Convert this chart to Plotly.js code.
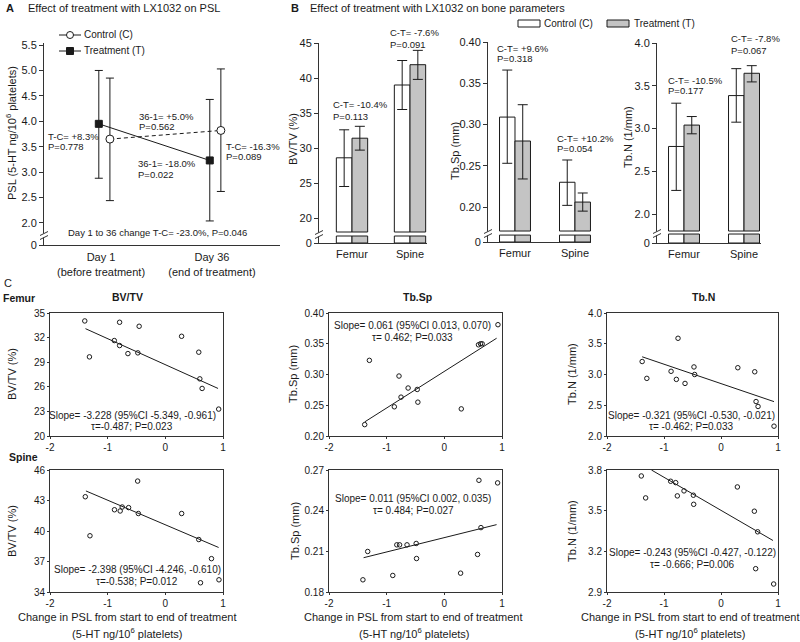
<!DOCTYPE html>
<html><head><meta charset="utf-8">
<script src="https://cdn.plot.ly/plotly-3.0.1.min.js"></script>
<style>html,body{margin:0;padding:0;background:#fff}#chart{width:800px;height:642px}</style>
</head><body><div id="chart"></div>
<script>
// ===== Panel A data: PSL =====
const pslDays = ["Day 1<br>(before treatment)", "Day 36<br>(end of treatment)"];
const pslControl = [3.65, 3.82];
const pslControlLow = [2.44, 2.62];
const pslControlHigh = [4.85, 5.03];
const pslTreat = [3.95, 3.23];
const pslTreatLow = [2.88, 2.04];
const pslTreatHigh = [5.00, 4.43];
const pslTickVals = [2.0, 2.5, 3.0, 3.5, 4.0, 4.5, 5.0, 5.5];
const pslTickText = ["2.0", "2.5", "3.0", "3.5", "4.0", "4.5", "5.0", "5.5"];

// ===== Panel B data: bone parameters =====
const boneSites = ["Femur", "Spine"];
const bvtvControl = [28.6, 39.0];
const bvtvControlLow = [24.5, 35.5];
const bvtvControlHigh = [32.6, 42.5];
const bvtvTreat = [31.4, 41.9];
const bvtvTreatLow = [29.7, 39.8];
const bvtvTreatHigh = [33.1, 43.95];
const bvtvTicks = [20, 25, 30, 35, 40, 45];

const tbspControl = [0.309, 0.230];
const tbspControlLow = [0.253, 0.202];
const tbspControlHigh = [0.366, 0.257];
const tbspTreat = [0.280, 0.206];
const tbspTreatLow = [0.234, 0.195];
const tbspTreatHigh = [0.324, 0.217];
const tbspTicks = [0.20, 0.25, 0.30, 0.35, 0.40];

const tbnControl = [2.79, 3.385];
const tbnControlLow = [2.276, 3.074];
const tbnControlHigh = [3.296, 3.70];
const tbnTreat = [3.04, 3.646];
const tbnTreatLow = [2.938, 3.545];
const tbnTreatHigh = [3.14, 3.735];
const tbnTicks = [2.0, 2.5, 3.0, 3.5, 4.0];

// ===== Panel C data: change in PSL vs bone parameters =====
const femurBvX = [-1.397, -1.316, -0.793, -0.885, -0.793, -0.649, -0.477, -0.454, 0.282, 0.580, 0.598, 0.638, 0.925];
const femurBvY = [34.03, 29.65, 33.87, 31.64, 31.03, 30.05, 30.14, 33.38, 32.16, 30.22, 26.97, 25.80, 23.28];
const femurBvFitX = [-1.385, 0.914];
const femurBvFitY = [33.09, 25.80];

const femurSpX = [-1.381, -1.300, -0.786, -0.867, -0.751, -0.628, -0.470, -0.459, 0.294, 0.592, 0.627, 0.656, 0.930];
const femurSpY = [0.2185, 0.323, 0.2975, 0.2475, 0.2632, 0.278, 0.2757, 0.2550, 0.2441, 0.3483, 0.350, 0.350, 0.381];
const femurSpFitX = [-1.381, 0.907];
const femurSpFitY = [0.2229, 0.359];

const femurNX = [-1.383, -1.301, -0.754, -0.876, -0.783, -0.631, -0.474, -0.462, 0.295, 0.592, 0.615, 0.650, 0.930];
const femurNY = [3.211, 2.937, 3.589, 3.052, 2.921, 2.855, 3.123, 3.00, 3.11, 3.044, 2.56, 2.48, 2.16];
const femurNFitX = [-1.383, 0.930];
const femurNFitY = [3.288, 2.559];

const spineBvX = [-1.388, -1.307, -0.480, -0.882, -0.783, -0.748, -0.637, -0.468, 0.283, 0.580, 0.80, 0.61, 0.93];
const spineBvY = [43.37, 39.53, 44.91, 42.09, 41.97, 42.36, 42.30, 41.72, 41.72, 39.16, 37.28, 34.91, 35.2];
const spineBvFitX = [-1.377, 0.924];
const spineBvFitY = [43.94, 38.38];

const spineSpX = [-1.412, -1.329, -0.824, -0.776, -0.894, -0.647, -0.488, -0.482, 0.282, 0.576, 0.600, 0.635, 0.924];
const spineSpY = [0.189, 0.2099, 0.2148, 0.2148, 0.1922, 0.2148, 0.2158, 0.2047, 0.1939, 0.2077, 0.2624, 0.2275, 0.2605];
const spineSpFitX = [-1.40, 0.906];
const spineSpFitY = [0.2053, 0.2297];

const spineNX = [-1.398, -1.322, -0.883, -0.795, -0.766, -0.649, -0.485, -0.479, 0.287, 0.585, 0.608, 0.643, 0.924];
const spineNY = [3.756, 3.594, 3.717, 3.707, 3.609, 3.646, 3.614, 3.547, 3.675, 3.496, 3.072, 3.344, 2.959];
const spineNFitX = [-1.22, 0.912];
const spineNFitY = [3.80, 3.28];

const changeTicks = [-2, -1, 0, 1];
const changeTickText = ["-2", "-1", "0", "1"];

// ===== styling helpers =====
const FONT = "Liberation Sans, Arial, Helvetica, sans-serif";
const INK = "#1a1a1a";
const AX = "#333";
const GRAY = "#c4c4c4";
const W = 800, H = 642;
const px = x => x / W;
const py = y => 1 - y / H;

const traces = [];
const layout = {
  width: W, height: H,
  margin: {l: 0, r: 0, t: 0, b: 0},
  paper_bgcolor: "#fff", plot_bgcolor: "rgba(0,0,0,0)",
  font: {family: FONT, color: INK, size: 10},
  showlegend: false,
  barmode: "overlay",
  annotations: [], shapes: []
};

function ann(text, x, y, o) {
  o = o || {};
  layout.annotations.push(Object.assign({
    text: text, x: px(x), y: py(y), xref: "paper", yref: "paper",
    xanchor: "left", yanchor: "middle", showarrow: false, borderpad: 0,
    font: {family: FONT, size: 9.5, color: INK}
  }, o));
}
function seg(x0, y0, x1, y1, col, w) {
  layout.shapes.push({type: "line", xref: "paper", yref: "paper",
    x0: px(x0), y0: py(y0), x1: px(x1), y1: py(y1),
    line: {color: col || AX, width: w || 1}, layer: "above"});
}
function box(x0, y0, x1, y1, fill, lineCol) {
  layout.shapes.push({type: "rect", xref: "paper", yref: "paper",
    x0: px(x0), y0: py(y0), x1: px(x1), y1: py(y1),
    fillcolor: fill, line: {color: lineCol || "rgba(0,0,0,0)", width: lineCol ? 1 : 0}, layer: "above"});
}
function brk(x, y) {
  box(x - 1.5, y - 2.5, x + 1.5, y + 1.5, "#fff");
  seg(x - 4, y - 0.5, x + 4, y - 4.5, AX, 1);
  seg(x - 4, y + 3.5, x + 4, y - 0.5, AX, 1);
}
function errY(vals, lo, hi, w) {
  return {type: "data", symmetric: false,
    array: hi.map((h, i) => h - vals[i]),
    arrayminus: vals.map((v, i) => v - lo[i]),
    color: INK, thickness: 1, width: w};
}

// ===== Panel A =====
const aMin = 1.567, aMax = 5.54;
layout.xaxis = {domain: [px(44), px(280)], range: [-0.514, 1.613], anchor: "y",
  tickvals: [0, 1], ticktext: pslDays, ticks: "outside", ticklen: 2, tickcolor: "rgba(0,0,0,0)",
  showline: true, linecolor: AX, linewidth: 1, showgrid: false, zeroline: false,
  tickfont: {size: 11, family: FONT, color: INK}, fixedrange: true};
layout.yaxis = {domain: [py(245), py(43)], range: [aMin, aMax], anchor: "x",
  tickvals: [aMin].concat(pslTickVals), ticktext: ["0"].concat(pslTickText),
  ticks: "outside", ticklen: 4, tickcolor: AX, showline: true, linecolor: AX, linewidth: 1,
  showgrid: false, zeroline: false, tickfont: {size: 11, family: FONT, color: INK}, fixedrange: true};
const dayIdx = pslDays.map((_, i) => i);
const offT = -0.02, offC = 0.08;
traces.push({type: "scatter", mode: "lines+markers", xaxis: "x", yaxis: "y",
  x: dayIdx.map(i => i + offC), y: pslControl,
  line: {color: INK, width: 1, dash: "4px,3px"},
  marker: {symbol: "circle", size: 8, color: "#fff", line: {color: INK, width: 1}},
  error_y: errY(pslControl, pslControlLow, pslControlHigh, 4), hoverinfo: "skip"});
traces.push({type: "scatter", mode: "lines+markers", xaxis: "x", yaxis: "y",
  x: dayIdx.map(i => i + offT), y: pslTreat,
  line: {color: INK, width: 1},
  marker: {symbol: "square", size: 7, color: INK, line: {color: INK, width: 1}},
  error_y: errY(pslTreat, pslTreatLow, pslTreatHigh, 4), hoverinfo: "skip"});
brk(44, 236);

// Panel A legend
seg(59, 35, 81, 35, INK, 1);
layout.shapes.push({type: "circle", xref: "paper", yref: "paper",
  x0: px(66.5), x1: px(73.5), y0: py(38.5), y1: py(31.5), fillcolor: "#fff", line: {color: INK, width: 1}, layer: "above"});
ann("Control (C)", 83, 35, {font: {family: FONT, size: 10, color: INK}});
seg(59, 51, 81, 51, INK, 1);
box(66.5, 47.5, 73.5, 54.5, INK, INK);
ann("Treatment (T)", 83, 51, {font: {family: FONT, size: 10, color: INK}});

// Panel A texts
ann("<b>A</b>", 5, 8, {font: {family: FONT, size: 11, color: INK}});
ann("Effect of treatment with LX1032 on PSL", 27, 8, {font: {family: FONT, size: 11, color: INK}});
ann("PSL (5-HT ng/10<sup>6</sup> platelets)", 11, 133, {xanchor: "center", textangle: -90, font: {family: FONT, size: 11, color: INK}});
ann("T-C= +8.3%", 47, 137); ann("P=0.778", 47, 147);
ann("36-1= +5.0%", 138, 117); ann("P=0.562", 138, 127);
ann("36-1= -18.0%", 137, 163.5); ann("P=0.022", 137, 175);
ann("T-C= -16.3%", 225, 146); ann("P=0.089", 225, 156);
ann("Day 1 to 36 change T-C= -23.0%, P=0.046", 157, 232, {xanchor: "center"});

// ===== Panel B =====
function barPanel(n, dom, xr, bw, cfg, ctrl, cLo, cHi, trt, tLo, tHi, ticks, fmt) {
  const xa = "x" + n, ya = "y" + n;
  layout["xaxis" + n] = {domain: [px(dom[0]), px(dom[1])], range: xr, anchor: ya,
    tickvals: [0, 1], ticktext: boneSites, ticks: "outside", ticklen: 1, tickcolor: "rgba(0,0,0,0)",
    showline: true, linecolor: AX, linewidth: 1, showgrid: false, zeroline: false,
    tickfont: {size: 11, family: FONT, color: INK}, fixedrange: true};
  layout["yaxis" + n] = {domain: [py(cfg.bottom), py(cfg.top)], range: [cfg.min, cfg.max], anchor: xa,
    tickvals: [cfg.min].concat(ticks), ticktext: ["0"].concat(ticks.map(fmt)),
    ticks: "outside", ticklen: 4, tickcolor: AX, showline: true, linecolor: AX, linewidth: 1,
    showgrid: false, zeroline: false, tickfont: {size: 11, family: FONT, color: INK}, fixedrange: true};
  const xi = boneSites.map((_, i) => i);
  const common = {type: "bar", xaxis: xa, yaxis: ya, width: bw, hoverinfo: "skip"};
  traces.push(Object.assign({}, common, {x: xi, y: ctrl.map(v => v - cfg.base), base: cfg.base, offset: -bw,
    marker: {color: "#fff", line: {color: INK, width: 1}}}));
  traces.push(Object.assign({}, common, {x: xi, y: trt.map(v => v - cfg.base), base: cfg.base, offset: 0,
    marker: {color: GRAY, line: {color: INK, width: 1}}}));
  traces.push(Object.assign({}, common, {x: xi, y: xi.map(() => cfg.stub - cfg.min), base: cfg.min, offset: -bw,
    marker: {color: "#fff", line: {color: INK, width: 1}}}));
  traces.push(Object.assign({}, common, {x: xi, y: xi.map(() => cfg.stub - cfg.min), base: cfg.min, offset: 0,
    marker: {color: GRAY, line: {color: INK, width: 1}}}));
  traces.push({type: "scatter", mode: "markers", xaxis: xa, yaxis: ya, x: xi.map(i => i - bw / 2), y: ctrl,
    marker: {size: 1, color: "rgba(0,0,0,0)"}, error_y: errY(ctrl, cLo, cHi, 5), hoverinfo: "skip"});
  traces.push({type: "scatter", mode: "markers", xaxis: xa, yaxis: ya, x: xi.map(i => i + bw / 2), y: trt,
    marker: {size: 1, color: "rgba(0,0,0,0)"}, error_y: errY(trt, tLo, tHi, 5), hoverinfo: "skip"});
}
barPanel(2, [319, 427], [-0.569, 1.293], 0.27,
  {min: 16.43, max: 45, base: 18, stub: 17.43, top: 43, bottom: 243},
  bvtvControl, bvtvControlLow, bvtvControlHigh, bvtvTreat, bvtvTreatLow, bvtvTreatHigh, bvtvTicks, v => String(v));
barPanel(3, [488, 591], [-0.45, 1.267], 0.258,
  {min: 0.1576, max: 0.40, base: 0.1709, stub: 0.166, top: 42, bottom: 242},
  tbspControl, tbspControlLow, tbspControlHigh, tbspTreat, tbspTreatLow, tbspTreatHigh, tbspTicks, v => v.toFixed(2));
barPanel(4, [657, 761], [-0.45, 1.283], 0.258,
  {min: 1.661, max: 4.0, base: 1.801, stub: 1.766, top: 43, bottom: 243},
  tbnControl, tbnControlLow, tbnControlHigh, tbnTreat, tbnTreatLow, tbnTreatHigh, tbnTicks, v => v.toFixed(1));
brk(319, 235); brk(488, 234); brk(657, 234);

ann("<b>B</b>", 290, 8, {font: {family: FONT, size: 11, color: INK}});
ann("Effect of treatment with LX1032 on bone parameters", 309, 8, {font: {family: FONT, size: 11, color: INK}});
box(518, 20, 540, 27, "#fff", INK);
ann("Control (C)", 543, 23.5, {font: {family: FONT, size: 10, color: INK}});
box(607, 20, 629, 27, GRAY, INK);
ann("Treatment (T)", 633, 23.5, {font: {family: FONT, size: 10, color: INK}});
ann("BV/TV (%)", 293, 139, {xanchor: "center", textangle: -90, font: {family: FONT, size: 11, color: INK}});
ann("Tb.Sp (mm)", 455, 151, {xanchor: "center", textangle: -90, font: {family: FONT, size: 11, color: INK}});
ann("Tb.N (1/mm)", 628, 137, {xanchor: "center", textangle: -90, font: {family: FONT, size: 11, color: INK}});
ann("C-T= -10.4%", 332, 105); ann("P=0.113", 332, 116);
ann("C-T= -7.6%", 389, 33); ann("P=0.091", 389, 44);
ann("C-T= +9.6%", 496, 48); ann("P=0.318", 496, 58);
ann("C-T= +10.2%", 556, 138); ann("P=0.054", 556, 148);
ann("C-T= -10.5%", 667, 80); ann("P=0.177", 667, 90);
ann("C-T= -7.8%", 730, 39); ann("P=0.067", 730, 50);

// ===== Panel C =====
function scatterPanel(n, xd, yd, yr, yticks, dec, xs, ys, fx, fy) {
  const xa = "x" + n, ya = "y" + n;
  layout["xaxis" + n] = {domain: [px(xd[0]), px(xd[1])], range: [-2, 1], anchor: ya,
    tickvals: changeTicks, ticktext: changeTickText, ticks: "outside", ticklen: 2, tickcolor: AX,
    showline: true, mirror: true, linecolor: AX, linewidth: 1, showgrid: false, zeroline: false,
    tickfont: {size: 10, family: FONT, color: INK}, fixedrange: true};
  layout["yaxis" + n] = {domain: [py(yd[1]), py(yd[0])], range: yr, anchor: xa,
    tickvals: yticks, ticktext: yticks.map(v => v.toFixed(dec)), ticks: "outside", ticklen: 2, tickcolor: AX,
    showline: true, mirror: true, linecolor: AX, linewidth: 1, showgrid: false, zeroline: false,
    tickfont: {size: 10, family: FONT, color: INK}, fixedrange: true};
  traces.push({type: "scatter", mode: "lines", xaxis: xa, yaxis: ya, x: fx, y: fy,
    line: {color: INK, width: 1}, hoverinfo: "skip"});
  traces.push({type: "scatter", mode: "markers", xaxis: xa, yaxis: ya, x: xs, y: ys, cliponaxis: false,
    marker: {symbol: "circle-open", size: 4.5, color: INK, line: {width: 1}}, hoverinfo: "skip"});
}
const colBV = [50, 223], colSP = [329, 502], colN = [607, 778];
const rowF = [313, 436], rowS = [470, 592];
scatterPanel(5, colBV, rowF, [20, 35], [20, 23, 26, 29, 32, 35], 0, femurBvX, femurBvY, femurBvFitX, femurBvFitY);
scatterPanel(6, colSP, rowF, [0.20, 0.40], [0.20, 0.25, 0.30, 0.35, 0.40], 2, femurSpX, femurSpY, femurSpFitX, femurSpFitY);
scatterPanel(7, colN, rowF, [2.0, 4.0], [2.0, 2.5, 3.0, 3.5, 4.0], 1, femurNX, femurNY, femurNFitX, femurNFitY);
scatterPanel(8, colBV, rowS, [34, 46], [34, 37, 40, 43, 46], 0, spineBvX, spineBvY, spineBvFitX, spineBvFitY);
scatterPanel(9, colSP, rowS, [0.18, 0.27], [0.18, 0.21, 0.24, 0.27], 2, spineSpX, spineSpY, spineSpFitX, spineSpFitY);
scatterPanel(10, colN, rowS, [2.9, 3.8], [2.9, 3.2, 3.5, 3.8], 1, spineNX, spineNY, spineNFitX, spineNFitY);

const F10 = {family: FONT, size: 10, color: INK};
const F11 = {family: FONT, size: 11, color: INK};
ann("C", 3, 283, {font: F11});
ann("<b>Femur</b>", 2, 298, {font: {family: FONT, size: 10.5, color: INK}});
ann("<b>Spine</b>", 8, 457, {font: {family: FONT, size: 10.5, color: INK}});
ann("<b>BV/TV</b>", 127, 297, {xanchor: "center", font: {family: FONT, size: 10.5, color: INK}});
ann("<b>Tb.Sp</b>", 417, 297, {xanchor: "center", font: {family: FONT, size: 10.5, color: INK}});
ann("<b>Tb.N</b>", 703, 297, {xanchor: "center", font: {family: FONT, size: 10.5, color: INK}});

ann("BV/TV (%)", 12, 374, {xanchor: "center", textangle: -90, font: F11});
ann("Tb.Sp (mm)", 293, 374, {xanchor: "center", textangle: -90, font: F11});
ann("Tb.N (1/mm)", 572, 374, {xanchor: "center", textangle: -90, font: F11});
ann("BV/TV (%)", 12, 531, {xanchor: "center", textangle: -90, font: F11});
ann("Tb.Sp (mm)", 295, 531, {xanchor: "center", textangle: -90, font: F11});
ann("Tb.N (1/mm)", 572, 531, {xanchor: "center", textangle: -90, font: F11});

ann("Slope= -3.228 (95%CI -5.349, -0.961)", 132, 415, {xanchor: "center", font: F10});
ann("\u03c4=-0.487; P=0.023", 132, 426, {xanchor: "center", font: F10});
ann("Slope= 0.061 (95%CI 0.013, 0.070)", 412, 326, {xanchor: "center", font: F10});
ann("\u03c4= 0.462; P=0.033", 412, 338, {xanchor: "center", font: F10});
ann("Slope= -0.321 (95%CI -0.530, -0.021)", 691, 415, {xanchor: "center", font: F10});
ann("\u03c4= -0.462; P=0.033", 691, 426, {xanchor: "center", font: F10});
ann("Slope= -2.398 (95%CI -4.246, -0.610)", 137, 569, {xanchor: "center", font: F10});
ann("\u03c4=-0.538; P=0.012", 137, 581, {xanchor: "center", font: F10});
ann("Slope= 0.011 (95%CI 0.002, 0.035)", 413, 498, {xanchor: "center", font: F10});
ann("\u03c4= 0.484; P=0.027", 413, 510, {xanchor: "center", font: F10});
ann("Slope= -0.243 (95%CI -0.427, -0.122)", 692, 552, {xanchor: "center", font: F10});
ann("\u03c4= -0.666; P=0.006", 692, 564, {xanchor: "center", font: F10});

[127, 414, 690].forEach(cx => {
  ann("Change in PSL from start to end of treatment", cx, 617, {xanchor: "center", font: F11});
  ann("(5-HT ng/10<sup>6</sup> platelets)", cx, 633, {xanchor: "center", font: F11});
});

Plotly.newPlot("chart", traces, layout, {staticPlot: true, displayModeBar: false});
</script>
</body></html>
